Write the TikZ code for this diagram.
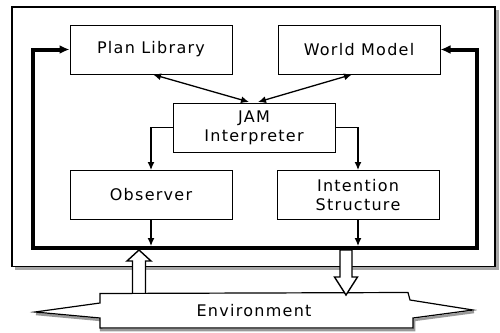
\documentclass[tikz,border=0pt]{standalone}
\usepackage{fontspec}
\setmainfont{DejaVu Sans}[LetterSpace=8]
\usetikzlibrary{arrows.meta,calc}
\tikzset{
  module/.style={draw, line width=1pt, fill=white, minimum width=162pt, minimum height=49pt,
    inner sep=0pt, align=center, font=\fontsize{16}{19}\selectfont},
  arr/.style={line width=1.3pt, -{Latex[length=8pt,width=7pt]}},
  twoway/.style={line width=1.3pt, {Latex[length=8pt,width=7pt]}-{Latex[length=8pt,width=7pt]}},
  bus/.style={line width=4pt, -{Latex[length=10pt,width=9pt]}},
  hollow/.style={draw, line width=1.4pt, fill=white, line join=miter},
  shade/.style={draw=black!35, line width=3pt}
}
\begin{document}
\begin{tikzpicture}[x=1pt,y=-1pt]
\useasboundingbox (0,0) rectangle (500,332);

% outer frame with a grey drop shadow
\draw[shade] (497,10) -- (497,268.5) -- (15,268.5);
\draw[line width=1.2pt] (12,7) rectangle (495,266.5);

% modules
\node[module] (pl)  at (151,49.5)  {Plan Library};
\node[module] (wm)  at (359,49.5)  {World Model};
\node[module] (jam) at (254,127.5) {JAM\\Interpreter};
\node[module] (obs) at (151,195)   {Observer};
\node[module] (int) at (358,195)   {Intention\\Structure};

% thick bus around the modules
\coordinate (bl) at (33,248);
\coordinate (br) at (477,248);
\draw[bus] (br) -- (bl) |- (pl.west);
\draw[bus] (bl) -- (br) |- (wm.east);

% knowledge access
\coordinate (jamL) at (249,102);
\coordinate (jamR) at (258,102);
\draw[twoway] (153,74.5) -- (jamL);
\draw[twoway] (352,74.5) -- (jamR);

% interpreter to observer and intentions
\draw[arr] (jam.west) -| (obs.north);
\draw[arr] (jam.east) -| (int.north);

% outputs to the bus
\coordinate (obsB) at (151,246);
\coordinate (intB) at (358,246);
\draw[arr] (obs.south) -- (obsB);
\draw[arr] (int.south) -- (intB);

% sensing arrow from the environment
\path[hollow] (132.5,298) -- (132.5,261) -- (127,261) -- (139,250) -- (151,261) -- (145.5,261) -- (145.5,298) -- cycle;

% environment ribbon
\draw[line width=2.5pt, black!40] (36,314) -- (101,320) -- (101,330) -- (414,330) -- (414,320) -- (474,312);
\path[hollow, line width=1.2pt] (35,312) -- (100,303) -- (100,293.5) -- (408,292.5) -- (410,300) -- (473,310)
  -- (413,318) -- (413,328) -- (100,328) -- (100,318) -- cycle;
\node[font=\fontsize{16}{19}\selectfont] (env) at (254,311) {Environment};

% acting arrow into the environment
\path[hollow] (340,250) -- (340,277) -- (334.5,277) -- (346,295) -- (357.5,277) -- (352,277) -- (352,250) -- cycle;
\end{tikzpicture}
\end{document}
